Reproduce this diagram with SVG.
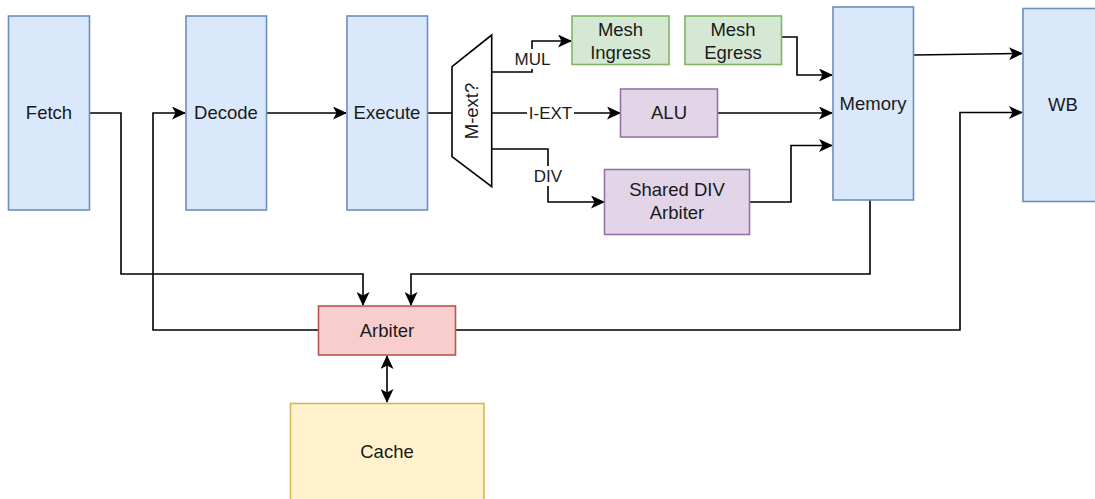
<svg xmlns="http://www.w3.org/2000/svg" width="1095" height="499" viewBox="0 0 1095 499">
<style>
.n{stroke-width:1.6}
.blue{fill:#dae8fc;stroke:#6c8ebf}
.green{fill:#d5e8d4;stroke:#82b366}
.purple{fill:#e1d5e7;stroke:#9673a6}
.red{fill:#f8cecc;stroke:#b85450}
.yellow{fill:#fff2cc;stroke:#d6b656}
text{font-family:"Liberation Sans",Arial,sans-serif;font-size:18.5px;fill:#1a1a1a;text-anchor:middle}
.lbl{font-size:17px}
.e{fill:none;stroke:#000;stroke-width:1.6}
.a{marker-end:url(#arr)}
</style>
<defs>
<marker id="arr" markerUnits="userSpaceOnUse" markerWidth="14" markerHeight="13" viewBox="0 0 14 13" refX="13" refY="6.5" orient="auto-start-reverse">
<path d="M0,0 L14,6.5 L0,13 L3.5,6.5 Z" fill="#000"/>
</marker>
</defs>
<rect width="1095" height="499" fill="#fff"/>
<g id="connectors">
<path class="e" d="M428,113 H452"/>
<path class="e a" d="M267,113 H346"/>
<path class="e a" d="M90,113 H121 V274 H363 V305"/>
<path class="e a" d="M318,330 H153 V113 H185"/>
<path class="e a" d="M870,200 V274 H411 V305"/>
<path class="e a" d="M456,330 H960 V112.5 H1022"/>
<path class="e a" d="M914,55 L1022,53.5"/>
<path class="e a" d="M387,356 V402" marker-start="url(#arr)"/>
<path class="e a" d="M492,72 H532 V41 H571"/>
<path class="e a" d="M492,113 H620"/>
<path class="e a" d="M492,149 H548 V202 H604"/>
<path class="e a" d="M782,37 H797 V75 H832"/>
<path class="e a" d="M718,113 H832"/>
<path class="e a" d="M750,202 H791 V145.5 H832"/>
<rect x="514" y="49" width="37" height="20" fill="#fff"/>
<text class="lbl" x="532.5" y="59" dy="0.35em">MUL</text>
<rect x="527" y="103" width="47" height="20" fill="#fff"/>
<text class="lbl" x="550.5" y="113" dy="0.35em">I-EXT</text>
<rect x="532" y="166" width="32" height="20" fill="#fff"/>
<text class="lbl" x="548" y="176" dy="0.35em">DIV</text>
</g>
<g id="fetch"><rect class="n blue" x="8.5" y="16" width="81" height="194"/><text x="49" y="113" dy="0.35em">Fetch</text></g>
<g id="decode"><rect class="n blue" x="186" y="16" width="80.5" height="194"/><text x="226" y="113" dy="0.35em">Decode</text></g>
<g id="execute"><rect class="n blue" x="347" y="16" width="80.5" height="194"/><text x="387" y="113" dy="0.35em">Execute</text></g>
<g id="mux"><path class="n" d="M452,66.7 L491.7,35 V186.7 L452,156.7 Z" fill="#fff" stroke="#000"/><text transform="translate(472,111) rotate(-90)" dy="0.35em">M-ext?</text></g>
<g id="mesh-ingress"><rect class="n green" x="572" y="16" width="97" height="48.5"/><text x="620.5" y="30" dy="0.35em">Mesh</text><text x="620.5" y="53" dy="0.35em">Ingress</text></g>
<g id="mesh-egress"><rect class="n green" x="685" y="16" width="96.5" height="48.5"/><text x="733" y="30" dy="0.35em">Mesh</text><text x="733" y="53" dy="0.35em">Egress</text></g>
<g id="alu"><rect class="n purple" x="620.5" y="89" width="97" height="48"/><text x="669" y="113" dy="0.35em">ALU</text></g>
<g id="shared-div"><rect class="n purple" x="604.5" y="169.5" width="145" height="65"/><text x="677" y="190" dy="0.35em">Shared DIV</text><text x="677" y="213" dy="0.35em">Arbiter</text></g>
<g id="memory"><rect class="n blue" x="833" y="7" width="80.5" height="193"/><text x="873" y="103.5" dy="0.35em">Memory</text></g>
<g id="wb"><rect class="n blue" x="1023" y="8.5" width="81" height="193"/><text x="1063" y="105" dy="0.35em">WB</text></g>
<g id="arbiter"><rect class="n red" x="318.5" y="306" width="137" height="49"/><text x="387" y="330.5" dy="0.35em">Arbiter</text></g>
<g id="cache"><rect class="n yellow" x="290.5" y="403.5" width="193.5" height="100"/><text x="387" y="452" dy="0.35em">Cache</text></g>
</svg>
